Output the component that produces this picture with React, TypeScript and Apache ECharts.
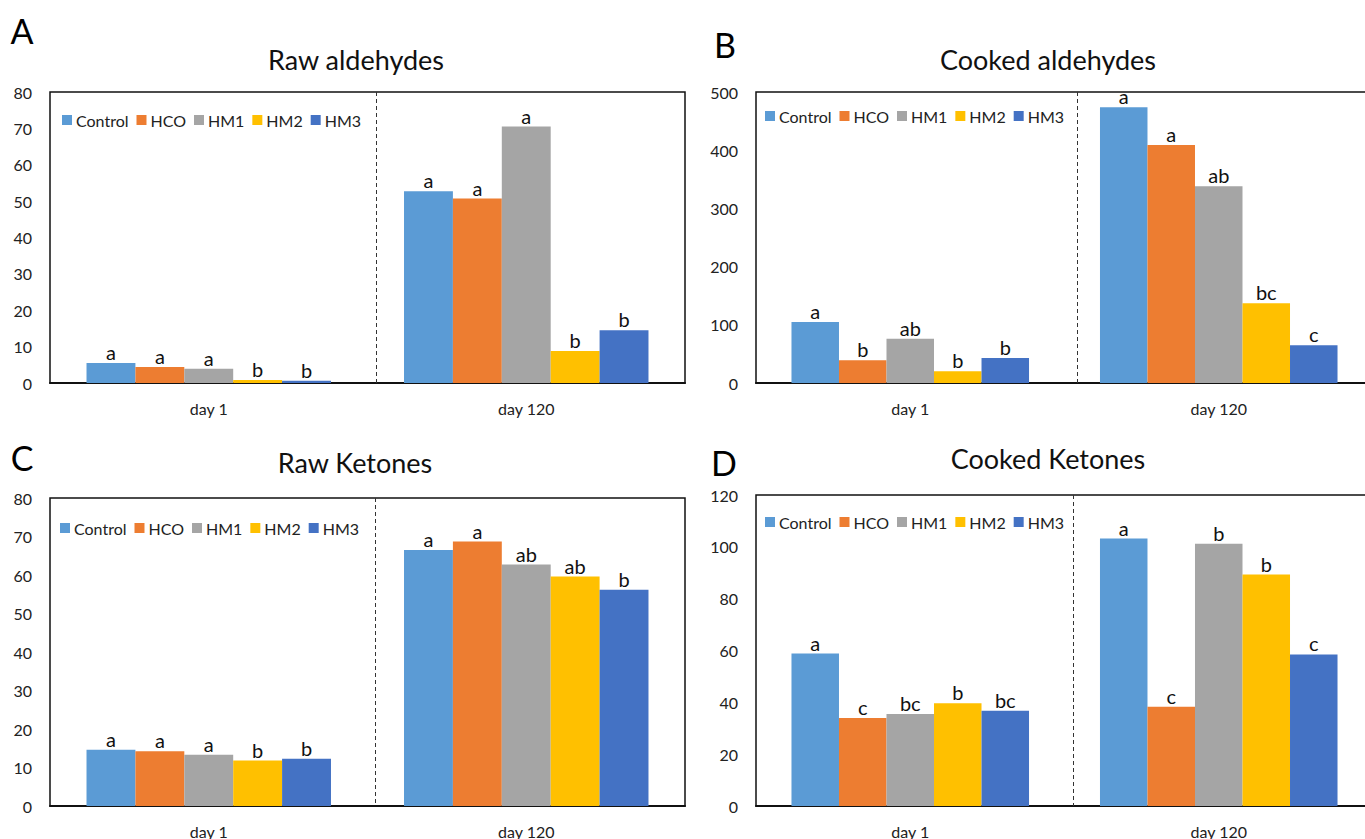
import React, { useEffect, useRef } from "react";
import * as echarts from "echarts";

// Categories, treatments and colours
const categories = ["day 1", "day 120"];
const treatments = ["Control", "HCO", "HM1", "HM2", "HM3"];
const colors = ["#5B9BD5", "#ED7D31", "#A5A5A5", "#FFC000", "#4472C4"];

// Values per treatment: [day 1, day 120]
const rawAldehydes = [
  [5.5, 52.7],
  [4.4, 50.7],
  [3.9, 70.5],
  [0.8, 8.8],
  [0.6, 14.5],
];
const rawAldehydesLetters = [
  ["a", "a"],
  ["a", "a"],
  ["a", "a"],
  ["b", "b"],
  ["b", "b"],
];

const cookedAldehydes = [
  [105, 474],
  [39, 409],
  [76, 338],
  [20, 137],
  [43, 65],
];
const cookedAldehydesLetters = [
  ["a", "a"],
  ["b", "a"],
  ["ab", "ab"],
  ["b", "bc"],
  ["b", "c"],
];

const rawKetones = [
  [14.6, 66.5],
  [14.2, 68.7],
  [13.3, 62.7],
  [11.8, 59.6],
  [12.3, 56.2],
];
const rawKetonesLetters = [
  ["a", "a"],
  ["a", "a"],
  ["a", "ab"],
  ["b", "ab"],
  ["b", "b"],
];

const cookedKetones = [
  [58.8, 103.2],
  [34.0, 38.3],
  [35.5, 101.2],
  [39.6, 89.3],
  [36.8, 58.5],
];
const cookedKetonesLetters = [
  ["a", "a"],
  ["c", "c"],
  ["bc", "b"],
  ["b", "b"],
  ["bc", "c"],
];

// Value axis ranges
const axisMax = [80, 500, 80, 120];
const axisStep = [10, 100, 10, 20];

const panelTitles = ["Raw aldehydes", "Cooked aldehydes", "Raw Ketones", "Cooked Ketones"];
const panelLetters = ["A", "B", "C", "D"];

const FONT = "Lato, 'Open Sans', sans-serif";

export default function App() {
  const ref = useRef<HTMLDivElement>(null);

  useEffect(() => {
    if (!ref.current) return;
    const chart = echarts.init(ref.current, undefined, { renderer: "svg" });

    // Plot rectangles: left, top, width, height
    const grids = [
      { left: 50, top: 92, width: 635, height: 291 },
      { left: 756, top: 92, width: 617, height: 291 },
      { left: 50, top: 498, width: 635, height: 308 },
      { left: 756, top: 495, width: 617, height: 311 },
    ];
    const values = [rawAldehydes, cookedAldehydes, rawKetones, cookedKetones];
    const letters = [rawAldehydesLetters, cookedAldehydesLetters, rawKetonesLetters, cookedKetonesLetters];
    const legendPos = [
      { left: 57, top: 107 },
      { left: 760, top: 103 },
      { left: 55, top: 515 },
      { left: 760, top: 509 },
    ];
    const titlePos = [
      [356, 59],
      [1048, 59],
      [355, 462],
      [1048, 458],
    ];
    const letterPos = [
      [22, 30],
      [725, 44],
      [22, 457],
      [724, 462],
    ];
    // Separator between the two days, as a fraction of plot width
    const sepFrac = [0.513, 0.52, 0.512, 0.514];

    const series: any[] = [];
    values.forEach((panel, gi) => {
      panel.forEach((vals, ti) => {
        series.push({
          type: "bar",
          name: treatments[ti],
          xAxisIndex: gi,
          yAxisIndex: gi,
          data: vals,
          barGap: "0%",
          barCategoryGap: "23%",
          itemStyle: { color: colors[ti] },
          label: {
            show: true,
            position: "top",
            distance: 1,
            fontFamily: FONT,
            fontSize: 20,
            color: "#111",
            formatter: (p: any) => letters[gi][ti][p.dataIndex],
          },
        });
      });
    });

    const graphic: any[] = [];
    grids.forEach((g, i) => {
      const x = Math.round(g.left + g.width * sepFrac[i]) + 0.5;
      graphic.push({
        type: "line",
        shape: { x1: x, y1: g.top, x2: x, y2: g.top + g.height },
        style: { stroke: "#333", lineWidth: 1, lineDash: [4, 3] },
        z: 10,
      });
      graphic.push({
        type: "text",
        x: titlePos[i][0],
        y: titlePos[i][1],
        style: {
          text: panelTitles[i],
          fontFamily: FONT,
          fontSize: 27,
          fill: "#111",
          textAlign: "center",
          textVerticalAlign: "middle",
        },
      });
      graphic.push({
        type: "text",
        x: letterPos[i][0],
        y: letterPos[i][1],
        style: {
          text: panelLetters[i],
          fontFamily: FONT,
          fontSize: 34,
          fill: "#000",
          textAlign: "center",
          textVerticalAlign: "middle",
        },
      });
    });

    chart.setOption({
      animation: false,
      backgroundColor: "#fff",
      grid: grids.map((g) => ({
        ...g,
        show: true,
        borderColor: "#111",
        borderWidth: 1.5,
        backgroundColor: "transparent",
        containLabel: false,
      })),
      legend: legendPos.map((p) => ({
        ...p,
        data: treatments,
        itemWidth: 10,
        itemHeight: 10,
        itemGap: 8,
        icon: "rect",
        selectedMode: false,
        textStyle: { fontFamily: FONT, fontSize: 16, color: "#222", padding: [0, 0, 0, -1] },
      })),
      xAxis: grids.map((_, i) => ({
        type: "category",
        gridIndex: i,
        data: categories,
        axisTick: { show: false },
        axisLine: { show: true, lineStyle: { color: "#111", width: 2 } },
        axisLabel: { fontFamily: FONT, fontSize: 16, color: "#222", margin: 17 },
      })),
      yAxis: grids.map((_, i) => ({
        type: "value",
        gridIndex: i,
        min: 0,
        max: axisMax[i],
        interval: axisStep[i],
        splitLine: { show: false },
        axisLine: { show: false },
        axisTick: { show: false },
        axisLabel: { fontFamily: FONT, fontSize: 16, color: "#222", margin: 18 },
      })),
      series,
      graphic,
    });

    return () => chart.dispose();
  }, []);

  // The canvas runs slightly past the right edge of the window, so the
  // right-hand plots are cut off there.
  return (
    <div
      ref={ref}
      style={{ position: "fixed", left: 0, top: 0, width: 1380, height: 839, background: "#fff" }}
    />
  );
}
